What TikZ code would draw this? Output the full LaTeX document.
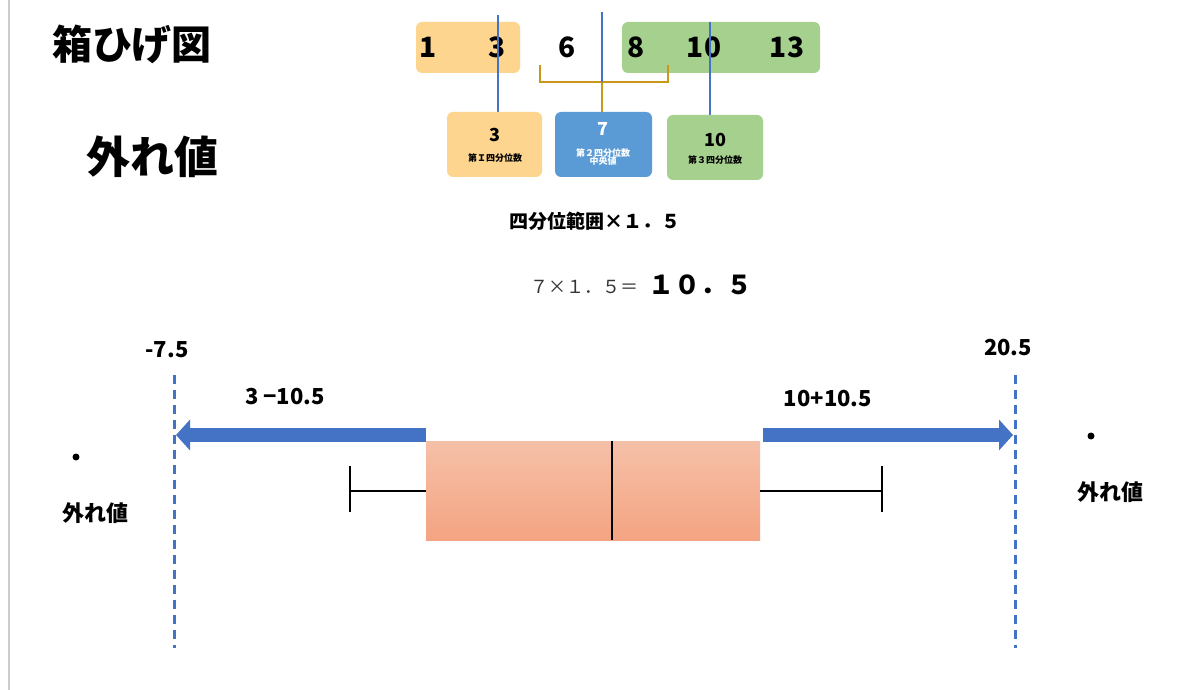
\documentclass[tikz,border=0pt]{standalone}
\usepackage{fontspec}
\setmainfont{Noto Sans CJK JP}
\usetikzlibrary{arrows.meta}
\definecolor{orbox}{HTML}{FDD58F}
\definecolor{grbox}{HTML}{A6D08E}
\definecolor{blbox}{HTML}{5B9BD5}
\definecolor{lineblue}{HTML}{4472C4}
\definecolor{gold}{HTML}{C9971A}
\begin{document}
\begin{tikzpicture}[x=1pt,y=-1pt,
  num/.style={font=\bfseries\fontsize{28}{28}\selectfont},
  lbl/.style={font=\bfseries\fontsize{22}{22}\selectfont},
  qbox/.style={rounded corners=6pt,draw=none}]
\useasboundingbox (0,0) rectangle (1200,690);
\fill[white] (0,0) rectangle (1200,690);
\draw[gray!40,line width=1.5pt] (9,0) -- (9,690);
\node[font=\bfseries\fontsize{40}{40}\selectfont] (t1) at (132,44) {箱ひげ図};
\node[font=\bfseries\fontsize{44}{44}\selectfont] (t2) at (152,157) {外れ値};
% top boxes
\fill[orbox,rounded corners=6pt] (416,22) rectangle (520,73);
\fill[grbox,rounded corners=6pt] (622,22) rectangle (820,73);
\foreach \x/\t/\n in {428/1/a,497/3/b,567/6/c,636/8/d,704/10/e,787/13/f}
  \node[num] (n\n) at (\x,47) {\t};
% brace
\draw[gold,line width=2.5pt] (540,65) -- (540,82) -- (668,82) -- (668,65);
\draw[gold,line width=2.5pt] (602,82) -- (602,112);
% blue lines
\draw[lineblue,line width=2.5pt] (498,15) -- (498,112);
\draw[lineblue,line width=2.5pt] (602,12) -- (602,82);
\draw[lineblue,line width=2.5pt] (710,22) -- (710,115);
% quartile boxes
\fill[orbox,rounded corners=6pt] (447,112) rectangle (542,177);
\node[font=\bfseries\fontsize{18}{18}\selectfont] (q1) at (495,135) {3};
\node[font=\bfseries\fontsize{9}{9}\selectfont] (q1l) at (495,158) {第Ｉ四分位数};
\fill[blbox,rounded corners=6pt] (555,112) rectangle (652,177);
\node[white,font=\bfseries\fontsize{18}{18}\selectfont] (q2) at (603,129) {7};
\node[white,font=\bfseries\fontsize{9}{9}\selectfont,align=center] (q2l) at (603,157) {第２四分位数\\[-1pt]中央値};
\fill[grbox,rounded corners=6pt] (667,115) rectangle (763,180);
\node[font=\bfseries\fontsize{18}{18}\selectfont] (q3) at (715,140) {10};
\node[font=\bfseries\fontsize{9}{9}\selectfont] (q3l) at (715,160) {第３四分位数};
% formulas
\node[font=\bfseries\fontsize{19}{19}\selectfont] (f1) at (595,221) {四分位範囲×１．５};
\node[anchor=east,text=black!80,font=\fontsize{18}{18}\selectfont] (f2) at (642,287) {７×１．５＝};
\node[anchor=west,font=\bfseries\fontsize{26}{26}\selectfont] (f3) at (645,285) {１０．５};
% bounds
\node[lbl] (lo) at (167,350) {-7.5};
\node[lbl] (hi) at (1008,348) {20.5};
\coordinate (lt) at (174,375); \coordinate (lb) at (174,648);
\coordinate (rt) at (1015,375); \coordinate (rb) at (1015,648);
\draw[lineblue,line width=3pt,dash pattern=on 9pt off 6pt] (lt) -- (lb);
\draw[lineblue,line width=3pt,dash pattern=on 9pt off 6pt] (rt) -- (rb);
\node[lbl] (la) at (285,397) {3 −10.5};
\node[lbl] (ra) at (828,399) {10+10.5};
% arrows
\coordinate (al) at (426,435); \coordinate (ar) at (763,435);
\draw[lineblue,line width=14pt,-{Triangle[length=14pt,width=30pt]}] (al) -- (176,435);
\draw[lineblue,line width=14pt,-{Triangle[length=14pt,width=30pt]}] (ar) -- (1013,435);
% box
\shade[top color={rgb,255:red,245;green,192;blue,168},bottom color={rgb,255:red,244;green,164;blue,130}] (426,441) rectangle (760,540);
\draw[line width=2.5pt] (612,441) -- (612,540);
\draw[line width=2.5pt] (350,491) -- (426,491);
\draw[line width=2.5pt] (350,466) -- (350,512);
\draw[line width=2.5pt] (760,491) -- (882,491);
\draw[line width=2.5pt] (882,466) -- (882,512);
% outliers
\fill (76,457) circle (3.5pt);
\fill (1091,436) circle (3.5pt);
\node[lbl] (o1) at (95,513) {外れ値};
\node[lbl] (o2) at (1110,492) {外れ値};
\end{tikzpicture}
\end{document}
